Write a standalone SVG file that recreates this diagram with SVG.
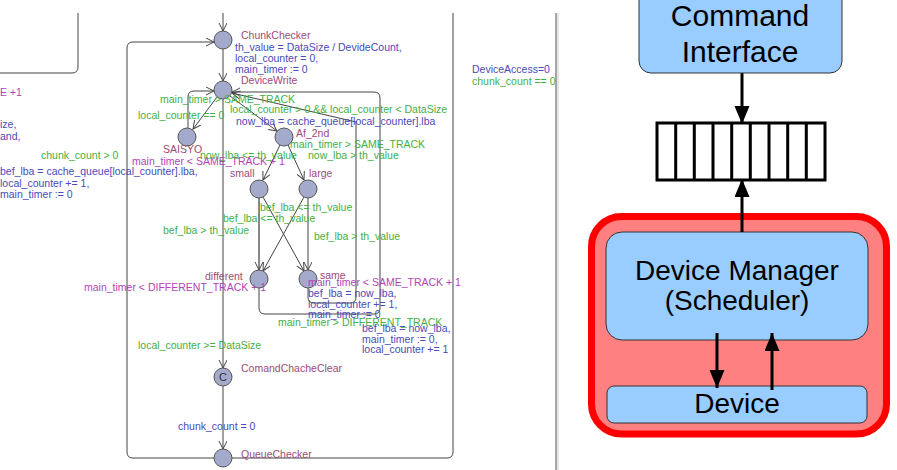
<svg xmlns="http://www.w3.org/2000/svg" width="897" height="470" viewBox="0 0 897 470">
  <style>
    .t { font-family: "Liberation Sans", Arial, sans-serif; font-size: 10.5px; }
    .name { fill: #9e4a78; }
    .asg { fill: #4a4ab8; }
    .grd { fill: #44b044; }
    .inv { fill: #b444b4; }
    .loc { fill: #a3aacb; stroke: #555; stroke-width: 1; }
    .edge { fill: none; stroke: #444; stroke-width: 1; }
    .edge-a { fill: none; stroke: #444; stroke-width: 1; marker-end: url(#open); }
    .sel { fill: none; stroke: #888; stroke-width: 2; marker-end: url(#open); }
    .box { fill: #99ccff; stroke: #333; stroke-width: 1; }
    .big { font-family: "Liberation Sans", Arial, sans-serif; fill: #000; text-anchor: middle; }
    .bold-arrow { stroke: #000; stroke-width: 3; fill: none; marker-end: url(#solid); }
  </style>
  <defs>
    <marker id="open" markerUnits="userSpaceOnUse" markerWidth="10" markerHeight="10" refX="8" refY="4" orient="auto">
      <path d="M0,0 L8,4 L0,8" fill="none" stroke="#444" stroke-width="1"/>
    </marker>
    <marker id="solid" markerUnits="userSpaceOnUse" markerWidth="20" markerHeight="16" refX="18" refY="7.5" orient="auto">
      <path d="M0,0 L18,7.5 L0,15 Z" fill="#000"/>
    </marker>
    <clipPath id="editor">
      <rect x="0" y="13" width="556" height="457"/>
    </clipPath>
  </defs>

  <rect width="897" height="470" fill="#fff"/>

  <!-- automaton editor panel -->
  <g clip-path="url(#editor)">
    <!-- neighbouring template (partly visible) -->
    <g id="left-template">
      <path class="edge" d="M-5 73 H72 Q78 73 78 67 V13"/>
      <text class="t inv" x="0" y="96">E +1</text>
      <text class="t asg" x="0" y="128">ize,</text>
      <text class="t asg" x="0" y="140">and,</text>
      <text class="t grd" x="41" y="159">chunk_count &gt; 0</text>
      <text class="t asg" x="0" y="175">bef_lba = cache_queue[local_counter].lba,</text>
      <text class="t asg" x="0" y="187">local_counter += 1,</text>
      <text class="t asg" x="0" y="198">main_timer := 0</text>
    </g>

    <g id="connectors">
      <!-- entry into ChunkChecker -->
      <path class="edge-a" d="M223 13 V31"/>
      <!-- QueueChecker back to the right rail -->
      <path class="edge" d="M232 458 H447 Q453 458 453 452 V13"/>
      <!-- QueueChecker -> ChunkChecker (left loop) -->
      <path class="edge-a" d="M214 458 H133 Q127 458 127 452 V48 Q127 42 133 42 H214"/>
      <!-- ChunkChecker -> DeviceWrite -->
      <path class="edge-a" d="M223 49 V81"/>
      <!-- DeviceWrite -> SAISYO -->
      <path class="edge-a" d="M217 97 L193 129"/>
      <!-- SAISYO -> DeviceWrite -->
      <path class="edge-a" d="M188 128 V97 Q188 91 194 91 H214"/>
      <!-- DeviceWrite -> Af_2nd -->
      <path class="edge-a" d="M230 96 L277 131"/>
      <!-- DeviceWrite -> ComandChacheClear -->
      <path class="edge-a" d="M223 99 V368"/>
      <!-- Af_2nd -> small / large -->
      <path class="edge-a" d="M280 145 L263 180"/>
      <path class="edge-a" d="M288 145 L304 180"/>
      <!-- small -> different / same -->
      <path class="sel" d="M259 198 V270"/>
      <path class="edge-a" d="M263 197 L304 271"/>
      <!-- large -> different / same -->
      <path class="edge-a" d="M304 197 L263 271"/>
      <path class="edge-a" d="M308 198 V270"/>
      <!-- different -> DeviceWrite (outer loop) -->
      <path class="edge-a" d="M259 288 V308 Q259 314 265 314 H374 Q380 314 380 308 V98 Q380 92 374 92 H232"/>
      <!-- same -> DeviceWrite (inner loop) -->
      <path class="edge-a" d="M308 288 V297 Q308 303 314 303 H350 Q356 303 356 297 V122 L232 93"/>
      <!-- ComandChacheClear -> QueueChecker -->
      <path class="edge-a" d="M223 386 V449"/>
    </g>

    <g id="ChunkChecker">
      <circle class="loc" cx="223" cy="40" r="9"/>
      <text class="t name" x="241" y="39">ChunkChecker</text>
      <text class="t asg" x="235" y="51">th_value = DataSize / DevideCount,</text>
      <text class="t asg" x="235" y="62">local_counter = 0,</text>
      <text class="t asg" x="235" y="73">main_timer := 0</text>
    </g>
    <g id="DeviceWrite">
      <circle class="loc" cx="223" cy="90" r="9"/>
      <text class="t name" x="241" y="84">DeviceWrite</text>
    </g>
    <g id="SAISYO">
      <circle class="loc" cx="187" cy="137" r="9"/>
      <text class="t name" x="163" y="153">SAISYO</text>
      <text class="t inv" x="132" y="165">main_timer &lt; SAME_TRACK + 1</text>
    </g>
    <g id="Af_2nd">
      <circle class="loc" cx="284" cy="137" r="9"/>
      <text class="t name" x="296" y="137">Af_2nd</text>
    </g>
    <g id="small">
      <circle class="loc" cx="259" cy="189" r="9"/>
      <text class="t name" x="230" y="177">small</text>
    </g>
    <g id="large">
      <circle class="loc" cx="308" cy="189" r="9"/>
      <text class="t name" x="309" y="177">large</text>
    </g>
    <g id="different">
      <circle class="loc" cx="259" cy="279" r="9"/>
      <text class="t name" x="205" y="280">different</text>
      <text class="t inv" x="84" y="291">main_timer &lt; DIFFERENT_TRACK + 1</text>
    </g>
    <g id="same">
      <circle class="loc" cx="308" cy="279" r="9"/>
      <text class="t name" x="320" y="279">same</text>
      <text class="t inv" x="308" y="286">main_timer &lt; SAME_TRACK + 1</text>
    </g>
    <g id="ComandChacheClear">
      <circle class="loc" cx="223" cy="377" r="9"/>
      <text x="223" y="381" text-anchor="middle" style="font-family:'Liberation Sans',Arial,sans-serif;font-size:11px;fill:#333">C</text>
      <text class="t name" x="241" y="372">ComandChacheClear</text>
    </g>
    <g id="QueueChecker">
      <circle class="loc" cx="223" cy="458" r="9"/>
      <text class="t name" x="241" y="458">QueueChecker</text>
    </g>

    <g id="edge-labels">
      <text class="t grd" x="160" y="103">main_timer &gt; SAME_TRACK</text>
      <text class="t grd" x="138" y="119">local_counter == 0</text>
      <text class="t grd" x="230" y="113">local_counter &gt; 0 &amp;&amp; local_counter &lt; DataSize</text>
      <text class="t asg" x="236" y="125">now_lba = cache_queue[local_counter].lba</text>
      <text class="t grd" x="290" y="148">main_timer &gt; SAME_TRACK</text>
      <text class="t grd" x="200" y="159">now_lba &lt;= th_value</text>
      <text class="t grd" x="308" y="159">now_lba &gt; th_value</text>
      <text class="t grd" x="260" y="211">bef_lba &lt;= th_value</text>
      <text class="t grd" x="223" y="222">bef_lba &lt;= th_value</text>
      <text class="t grd" x="163" y="234">bef_lba &gt; th_value</text>
      <text class="t grd" x="314" y="240">bef_lba &gt; th_value</text>
      <text class="t asg" x="308" y="297">bef_lba = now_lba,</text>
      <text class="t asg" x="308" y="308">local_counter += 1,</text>
      <text class="t asg" x="308" y="318">main_timer := 0</text>
      <text class="t grd" x="278" y="326">main_timer &gt; DIFFERENT_TRACK</text>
      <text class="t asg" x="362" y="332">bef_lba = now_lba,</text>
      <text class="t asg" x="362" y="343">main_timer := 0,</text>
      <text class="t asg" x="362" y="353">local_counter += 1</text>
      <text class="t grd" x="138" y="349">local_counter &gt;= DataSize</text>
      <text class="t asg" x="178" y="430">chunk_count = 0</text>
      <text class="t asg" x="472" y="73">DeviceAccess=0</text>
      <text class="t grd" x="472" y="85">chunk_count == 0</text>
    </g>
  </g>

  <!-- panel divider -->
  <line x1="556" y1="13" x2="556" y2="470" stroke="#888" stroke-width="1.5"/>
  <line x1="558" y1="13" x2="558" y2="470" stroke="#ddd" stroke-width="1.5"/>

  <!-- architecture sketch -->
  <g id="connectors-arch">
    <path class="bold-arrow" d="M742 73 V124"/>
  </g>

  <g id="command-interface">
    <rect class="box" x="639" y="-12" width="203" height="85" rx="12"/>
    <text class="big" x="740" y="26" font-size="30">Command</text>
    <text class="big" x="740" y="62" font-size="30">Interface</text>
  </g>

  <g id="command-queue">
    <rect x="657" y="123" width="168" height="57" fill="#fff" stroke="#000" stroke-width="3"/>
    <path d="M675.7 123 V180 M694.3 123 V180 M713 123 V180 M731.7 123 V180 M750.3 123 V180 M769 123 V180 M787.7 123 V180 M806.3 123 V180" stroke="#000" stroke-width="3"/>
  </g>

  <g id="device-subsystem">
    <rect x="591.5" y="216.5" width="295" height="217.5" rx="30" fill="#ff8080" stroke="#ff0000" stroke-width="7"/>
  </g>

  <g id="device-manager">
    <rect class="box" x="606" y="232" width="262" height="108" rx="16"/>
    <text class="big" x="737" y="280" font-size="28">Device Manager</text>
    <text class="big" x="737" y="310" font-size="28">(Scheduler)</text>
  </g>

  <g id="device">
    <rect class="box" x="607" y="386" width="260" height="37" rx="7"/>
    <text class="big" x="737" y="413" font-size="28">Device</text>
  </g>

  <g id="connectors-arch-2">
    <path class="bold-arrow" d="M742 232 V179"/>
    <path class="bold-arrow" d="M717 333 V388"/>
    <path class="bold-arrow" d="M772 390 V333"/>
  </g>
</svg>
